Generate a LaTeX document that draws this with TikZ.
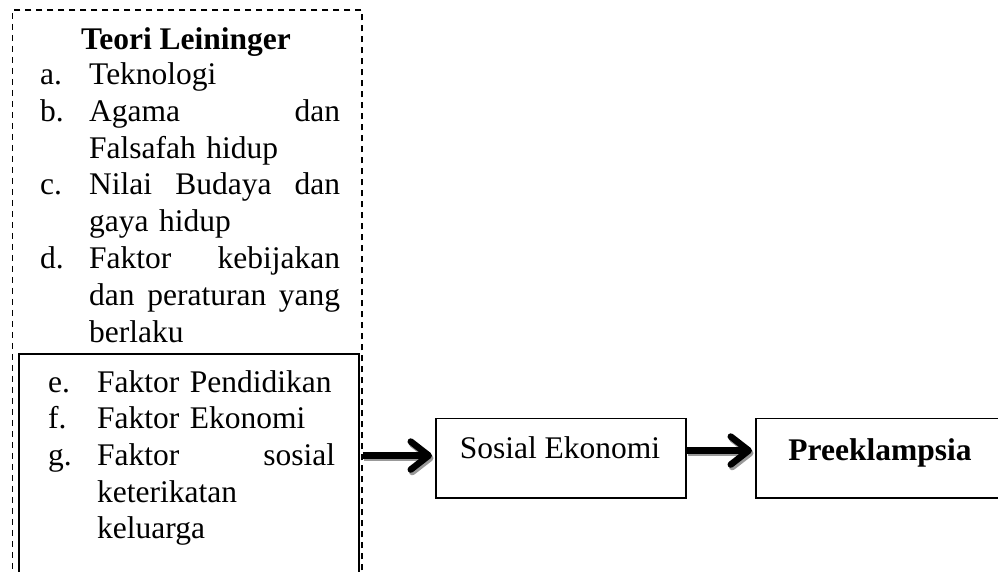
\documentclass[tikz,border=0pt]{standalone}
\usepackage{fontspec}
\setmainfont{Liberation Serif}
\usetikzlibrary{arrows.meta}
\begin{document}
\begin{tikzpicture}[x=1pt,y=-1pt,
  frame/.style={draw, line width=1.6pt, inner sep=0pt, anchor=north west},
  dashframe/.style={frame, dash pattern=on 6pt off 5pt},
  bodyfont/.style={font=\fontsize{31.5pt}{36.9pt}\selectfont},
  listtxt/.style={bodyfont, inner sep=0pt, anchor=north west, align=left},
  label/.style={bodyfont, inner sep=0pt, anchor=base},
  fat/.style={line width=6.5pt, shorten >=3pt, -{Straight Barb[length=18pt,width=28pt,round]}},
  shade/.style={fat, draw=black!40, transform canvas={xshift=1.5pt,yshift=-2.5pt}}
]
\useasboundingbox (0,0) rectangle (998,571);
\clip (0,0) rectangle (998,571);
\fill[white] (0,0) rectangle (998,571);

% frames
\node[dashframe, minimum width=349.5pt, minimum height=640pt] (outer) at (11.5,9) {};
\node[frame, minimum width=340pt, minimum height=300pt] (inner) at (18,353) {};
\node[frame, minimum width=250pt, minimum height=79.5pt] (se) at (435,417.5) {};
\node[frame, minimum width=250pt, minimum height=79.5pt] (pe) at (755,417.5) {};

% texts
\node[label, font=\bfseries\fontsize{31.5pt}{36.9pt}\selectfont] (title) at (186,49) {Teori Leininger};

\node[listtxt, text width=300pt] (listA) at (40,59) {%
\rule{0pt}{25pt}\makebox[49pt][l]{a.}Teknologi\\
\makebox[49pt][l]{b.}Agama\hfill dan\\
\hspace*{49pt}Falsafah hidup\\
\makebox[49pt][l]{c.}Nilai\hfill Budaya\hfill dan\\
\hspace*{49pt}gaya hidup\\
\makebox[49pt][l]{d.}Faktor\hfill kebijakan\\
\hspace*{49pt}dan\hfill peraturan\hfill yang\\
\hspace*{49pt}berlaku};

\node[listtxt, text width=287pt, font=\fontsize{31.5pt}{36.6pt}\selectfont] (listB) at (48,367) {%
\rule{0pt}{25pt}\makebox[49pt][l]{e.}Faktor Pendidikan\\
\makebox[49pt][l]{f.}Faktor Ekonomi\\
\makebox[49pt][l]{g.}Faktor\hfill sosial\\
\hspace*{49pt}keterikatan\\
\hspace*{49pt}keluarga};

\node[label] (setext) at (560,458) {Sosial Ekonomi};
\node[label, font=\bfseries\fontsize{31.5pt}{36.9pt}\selectfont] (petext) at (880,460) {Preeklampsia};

% arrows (shadow first)
\draw[shade] ([yshift=2.5pt]se.west -| outer.east) -- ([yshift=2.5pt]se.west);
\draw[fat] ([yshift=2.5pt]se.west -| outer.east) -- ([yshift=2.5pt]se.west);
\draw[shade] ([yshift=7.5pt]se.east) -- ([yshift=7.5pt]pe.west);
\draw[fat] ([yshift=7.5pt]se.east) -- ([yshift=7.5pt]pe.west);
\end{tikzpicture}
\end{document}
